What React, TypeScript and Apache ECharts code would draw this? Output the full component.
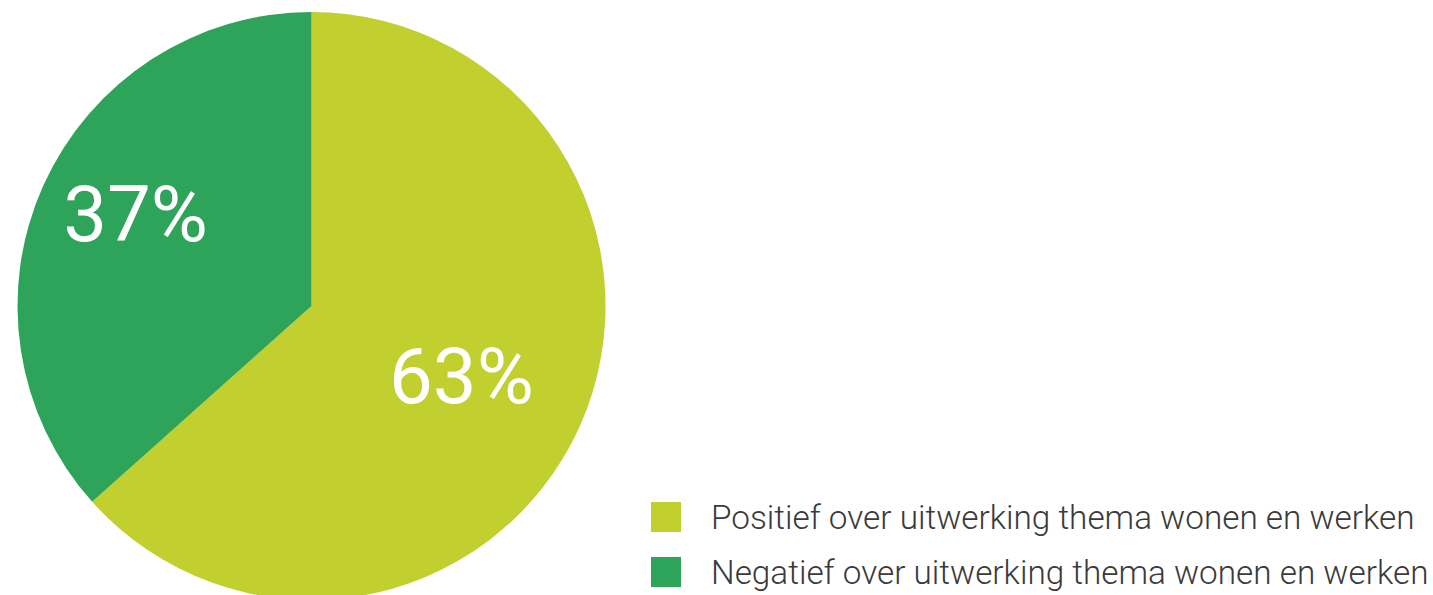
import React, { useEffect, useRef } from "react";
import * as echarts from "echarts";

const categories = [
  "Positief over uitwerking thema wonen en werken",
  "Negatief over uitwerking thema wonen en werken",
];
const values = [63.4, 36.6];
const labels = ["63%", "37%"];
const colors = ["#C1D02F", "#2EA35A"];
const labelOffsets = [
  [13, 9],
  [-39, -30],
];

export default function App() {
  const ref = useRef<HTMLDivElement>(null);
  useEffect(() => {
    if (!ref.current) return;
    const chart = echarts.init(ref.current, null, { renderer: "svg" });
    chart.setOption({
      animation: false,
      color: colors,
      legend: {
        orient: "vertical",
        left: 651,
        top: 500,
        padding: 0,
        itemWidth: 30,
        itemHeight: 30,
        itemGap: 21,
        icon: "rect",
        selectedMode: false,
        textStyle: {
          fontFamily: "Roboto",
          fontWeight: 300,
          fontSize: 33.3,
          lineHeight: 34,
          color: "#3a3a3a",
          padding: [0, 0, 0, 25],
        },
        data: categories,
      },
      series: [
        {
          type: "pie",
          center: [311.5, 306],
          radius: 294,
          startAngle: 90,
          clockwise: true,
          silent: true,
          label: {
            show: true,
            position: "inside",
            formatter: (p: any) => labels[p.dataIndex],
            color: "#ffffff",
            fontFamily: "Roboto",
            fontWeight: 400,
            fontSize: 78,
          },
          labelLayout: (p: any) => ({
            dx: labelOffsets[p.dataIndex][0],
            dy: labelOffsets[p.dataIndex][1],
          }),
          labelLine: { show: false },
          data: categories.map((name, i) => ({ name, value: values[i] })),
        },
      ],
    });
    return () => chart.dispose();
  }, []);
  return (
    <div
      ref={ref}
      style={{ position: "absolute", left: 0, top: 0, width: 1433, height: 595 }}
    />
  );
}
